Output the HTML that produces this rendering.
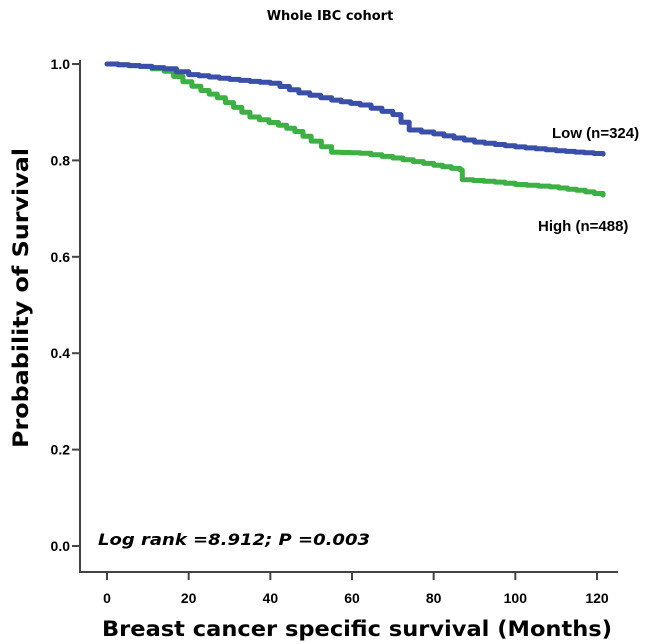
<!DOCTYPE html>
<html><head><meta charset="utf-8"><style>
body{margin:0;background:#fff}
svg{display:block;font-family:"Liberation Sans",Arial,sans-serif}
</style></head><body>
<svg id="chart" width="646" height="644" viewBox="0 0 646 644">
<text x="330" y="20" text-anchor="middle" font-size="13" font-weight="bold" font-family="DejaVu Sans, sans-serif">Whole IBC cohort</text>
<g id="axes"></g>
<g id="series"></g>
<text x="552" y="138" font-size="15" font-weight="bold">Low  (n=324)</text>
<text x="538" y="231" font-size="15" font-weight="bold">High (n=488)</text>
<text x="98" y="545" font-size="16" font-weight="bold" font-style="italic" font-family="DejaVu Sans, sans-serif" textLength="272" lengthAdjust="spacingAndGlyphs">Log rank =8.912; P =0.003</text>
<text transform="translate(28,298) rotate(-90)" text-anchor="middle" font-size="21" font-weight="bold" font-family="DejaVu Sans, sans-serif" textLength="300" lengthAdjust="spacingAndGlyphs">Probability of Survival</text>
<text x="357" y="636" text-anchor="middle" font-size="21" font-weight="bold" font-family="DejaVu Sans, sans-serif" textLength="510" lengthAdjust="spacingAndGlyphs">Breast cancer specific survival (Months)</text>
</svg>
<script>
const xTicks=[0,20,40,60,80,100,120];
const yTicks=[0.0,0.2,0.4,0.6,0.8,1.0];
const lowTimes=[0,8,14,20,30,40,47,55,62,70,74,80,90,100,110,121.5];
const lowSurv=[1.0,0.995,0.99,0.978,0.968,0.96,0.94,0.925,0.915,0.895,0.863,0.855,0.838,0.828,0.82,0.813];
const highTimes=[0,8,14,18.6,23,27,31,35,42,46,50,55,62,70,80,86.5,87,95,100,108.5,115,121.5];
const highSurv=[1.0,0.995,0.985,0.963,0.945,0.93,0.91,0.89,0.873,0.86,0.84,0.817,0.815,0.805,0.79,0.78,0.76,0.755,0.75,0.745,0.738,0.728];
const NS='http://www.w3.org/2000/svg';
const X=t=>107+t*(597-107)/120;
const Y=p=>546-p*(546-64);
function mk(tag,attrs,parent){const e=document.createElementNS(NS,tag);for(const k in attrs)e.setAttribute(k,attrs[k]);parent.appendChild(e);return e;}
const axes=document.getElementById('axes');
let yl=mk('line',{x1:80,y1:60,x2:80,y2:572,stroke:'#444','stroke-width':2},axes);


let xl=mk('line',{x1:79,y1:572,x2:618,y2:572,stroke:'#444','stroke-width':2},axes);


xTicks.forEach(v=>{
 const tk=mk('line',{x1:X(v),y1:572,x2:X(v),y2:580,stroke:'#444','stroke-width':2},axes);
 
 
 const t=mk('text',{x:X(v),y:603,'text-anchor':'middle','font-size':14,'font-weight':'bold'},axes);
 t.textContent=v;
 
 
});
yTicks.forEach(v=>{
 const tk=mk('line',{x1:72,y1:Y(v),x2:80,y2:Y(v),stroke:'#444','stroke-width':2},axes);
 
 
 const t=mk('text',{x:70,y:Y(v)+5,'text-anchor':'end','font-size':14,'font-weight':'bold'},axes);
 t.textContent=v.toFixed(1);
 
 
});
function stepPath(ts,ps){
 let d='M'+X(ts[0])+','+Y(ps[0]);
 for(let i=1;i<ts.length;i++){
  const t0=ts[i-1],t1=ts[i],p0=ps[i-1],p1=ps[i];
  const n=Math.max(1,Math.round((t1-t0)/2.5));
  for(let k=1;k<=n;k++){
   const tx=t0+(t1-t0)*k/n, py=p0+(p1-p0)*k/n;
   d+=' H'+X(tx).toFixed(1)+' V'+Y(py).toFixed(1);
  }
 }
 return d;
}
const g=document.getElementById('series');
const hi=mk('path',{d:stepPath(highTimes,highSurv),fill:'none',stroke:'#3cb043','stroke-width':5,'stroke-linejoin':'round','stroke-linecap':'round'},g);


const lo=mk('path',{d:stepPath(lowTimes,lowSurv),fill:'none',stroke:'#3a4fa8','stroke-width':5,'stroke-linejoin':'round','stroke-linecap':'round'},g);


</script>
</body></html>
